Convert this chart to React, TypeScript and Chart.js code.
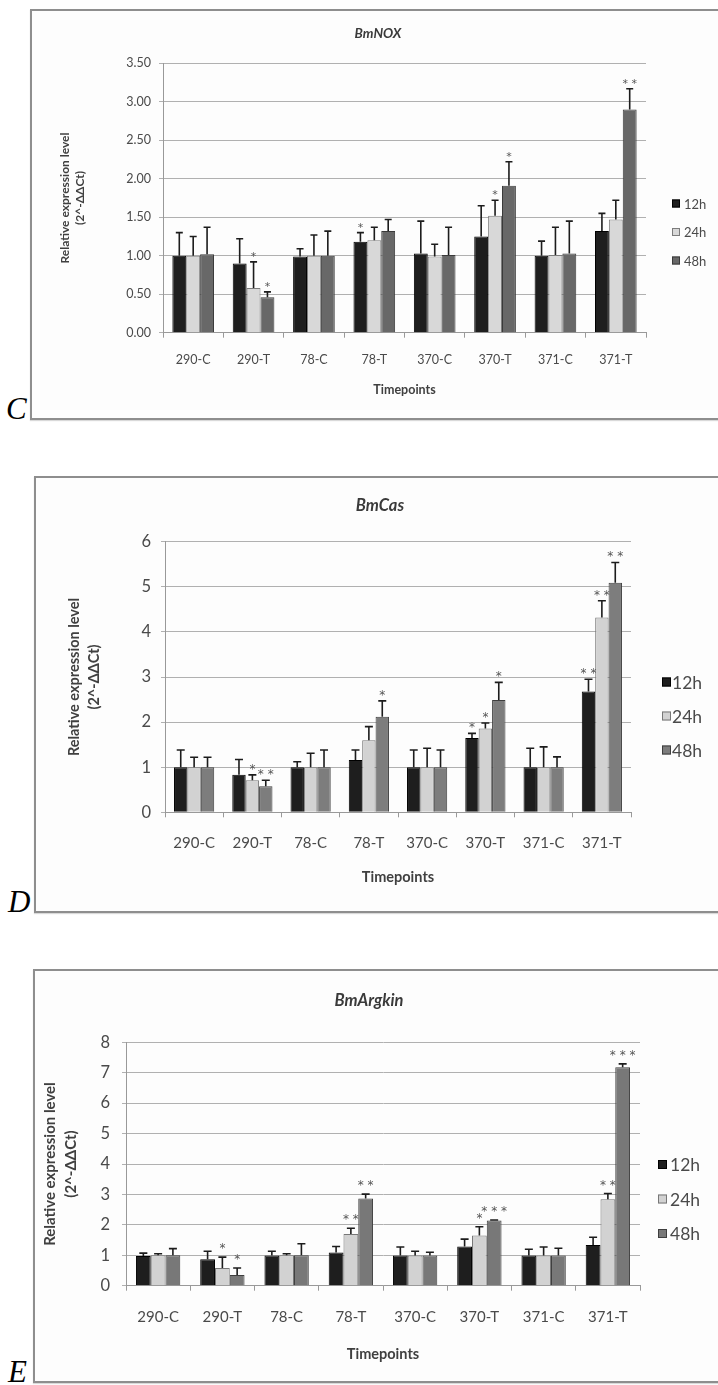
import React, { useEffect, useRef } from 'react';
import { Chart, registerables } from 'chart.js';

Chart.register(...registerables);

// ---------- shared data ----------
const categories = ['290-C', '290-T', '78-C', '78-T', '370-C', '370-T', '371-C', '371-T'];
const seriesNames = ['12h', '24h', '48h'];
const yAxisTitle = ['Relative expression level', '(2^-ΔΔCt)'];
const xAxisTitle = 'Timepoints';

// ---------- Panel C : BmNOX ----------
const noxTitle = 'BmNOX';
const noxMax = 3.5;
const noxStep = 0.5;
const nox12 = [1.0, 0.9, 0.99, 1.18, 1.03, 1.25, 1.0, 1.32];
const nox24 = [1.0, 0.58, 1.0, 1.2, 0.99, 1.52, 1.01, 1.47];
const nox48 = [1.02, 0.46, 1.0, 1.32, 1.01, 1.91, 1.03, 2.9];
const nox12Err = [0.3, 0.32, 0.1, 0.12, 0.42, 0.4, 0.19, 0.23];
const nox24Err = [0.25, 0.34, 0.27, 0.17, 0.16, 0.2, 0.36, 0.25];
const nox48Err = [0.35, 0.07, 0.32, 0.15, 0.36, 0.31, 0.42, 0.27];
const nox12Stars = ['', '', '', '*', '', '', '', ''];
const nox24Stars = ['', '*', '', '', '', '*', '', ''];
const nox48Stars = ['', '*', '', '', '', '*', '', '**'];

// ---------- Panel D : BmCas ----------
const casTitle = 'BmCas';
const casMax = 6;
const casStep = 1;
const cas12 = [1.0, 0.83, 1.0, 1.16, 1.0, 1.65, 1.0, 2.68];
const cas24 = [1.0, 0.71, 1.0, 1.6, 1.0, 1.86, 1.0, 4.32];
const cas48 = [1.0, 0.58, 1.0, 2.12, 1.0, 2.49, 1.0, 5.09];
const cas12Err = [0.38, 0.34, 0.12, 0.22, 0.38, 0.1, 0.42, 0.27];
const cas24Err = [0.22, 0.12, 0.31, 0.3, 0.42, 0.12, 0.45, 0.37];
const cas48Err = [0.22, 0.13, 0.38, 0.35, 0.38, 0.39, 0.23, 0.45];
const cas12Stars = ['', '', '', '', '', '*', '', '**'];
const cas24Stars = ['', '*', '', '', '', '*', '', '**'];
const cas48Stars = ['', '**', '', '*', '', '*', '', '**'];

// ---------- Panel E : BmArgkin ----------
const argTitle = 'BmArgkin';
const argMax = 8;
const argStep = 1;
const arg12 = [0.98, 0.87, 0.99, 1.09, 0.99, 1.29, 0.99, 1.34];
const arg24 = [1.0, 0.58, 1.0, 1.7, 0.99, 1.65, 0.99, 2.84];
const arg48 = [1.0, 0.35, 1.0, 2.87, 0.99, 2.14, 0.99, 7.18];
const arg12Err = [0.09, 0.26, 0.14, 0.2, 0.28, 0.24, 0.21, 0.25];
const arg24Err = [0.05, 0.36, 0.05, 0.19, 0.14, 0.29, 0.28, 0.19];
const arg48Err = [0.22, 0.23, 0.38, 0.14, 0.11, 0.02, 0.24, 0.11];
const arg12Stars = ['', '', '', '', '', '', '', ''];
const arg24Stars = ['', '*', '', '**', '', '*', '', '**'];
const arg48Stars = ['', '*', '', '**', '', '***', '', '***'];

const FONT = 'Lato, "Open Sans", "DejaVu Sans", sans-serif';
const STAR_FONT = '"DejaVu Sans", Lato, sans-serif';
const TEXT = '#4a4a4a';
const GRID = '#b0b0b0';
const AXIS = '#999999';

const decorPlugin = {
  id: 'decor',
  afterDatasetsDraw(chart: any, _args: any, o: any) {
    const ctx = chart.ctx;
    const yScale = chart.scales.y;
    chart.data.datasets.forEach((ds: any, i: number) => {
      const meta = chart.getDatasetMeta(i);
      meta.data.forEach((bar: any, j: number) => {
        const v = ds.data[j];
        const e = ds.errors[j];
        const yTop = yScale.getPixelForValue(v + e);
        ctx.save();
        ctx.strokeStyle = '#1c1c1c';
        ctx.lineWidth = o.errWidth;
        ctx.beginPath();
        ctx.moveTo(bar.x, bar.y);
        ctx.lineTo(bar.x, yTop);
        ctx.moveTo(bar.x - o.cap, yTop);
        ctx.lineTo(bar.x + o.cap, yTop);
        ctx.stroke();
        const s = ds.stars[j];
        if (s) {
          ctx.fillStyle = '#555';
          ctx.font = `${o.starSize}px ${STAR_FONT}`;
          ctx.textAlign = 'center';
          ctx.textBaseline = 'alphabetic';
          ctx.fillText(s.split('').join(' '), bar.x, yTop - o.starGap);
        }
        ctx.restore();
      });
    });
  },
  afterDraw(chart: any, _args: any, o: any) {
    const ctx = chart.ctx;
    const ca = chart.chartArea;
    const cx = (ca.left + ca.right) / 2;
    const cy = (ca.top + ca.bottom) / 2;
    ctx.save();
    ctx.fillStyle = '#3a3a3a';
    ctx.font = `italic bold ${o.titleSize}px ${FONT}`;
    ctx.textAlign = 'center';
    ctx.textBaseline = 'middle';
    ctx.fillText(o.title, cx + o.titleDx, ca.top + o.titleDy);
    const n = chart.data.datasets.length;
    chart.data.datasets.forEach((ds: any, i: number) => {
      const y = cy + o.legDy + (i - (n - 1) / 2) * o.legGap;
      const bx = ca.right + o.legBoxDx;
      const s = o.legBox;
      ctx.fillStyle = ds.backgroundColor;
      ctx.fillRect(bx, y - s / 2, s, s);
      ctx.strokeStyle = ds.borderColor;
      ctx.lineWidth = 1;
      ctx.strokeRect(bx + 0.5, y - s / 2 + 0.5, s - 1, s - 1);
      ctx.fillStyle = TEXT;
      ctx.font = `${o.legSize}px ${FONT}`;
      ctx.textAlign = 'left';
      ctx.textBaseline = 'middle';
      ctx.fillText(ds.label, ca.right + o.legTextDx, y + 1);
    });
    ctx.restore();
  },
};

type Spec = {
  title: string;
  max: number;
  step: number;
  decimals: number;
  values: number[][];
  errors: number[][];
  stars: string[][];
  colors: string[];
  borders: string[];
  box: { left: number; top: number; height: number };
  letter: string;
  letterLeft: number;
  padL: number; padR: number; padT: number; padB: number;
  yW: number; xH: number;
  tickSize: number; catSize: number; yTitleSize: number; yTitleLH: number;
  xTitleSize: number; yPad: number; xPad: number;
  titleSize: number; titleDx: number; titleDy: number;
  legSize: number; legBox: number; legBoxDx: number; legTextDx: number; legDy: number; legGap: number;
  starSize: number; starGap: number; cap: number;
};

function Panel({ spec }: { spec: Spec }) {
  const ref = useRef<HTMLCanvasElement | null>(null);
  const cw = 718 - (spec.box.left + 2);
  const chh = spec.box.height - 4;
  useEffect(() => {
    if (!ref.current) return;
    const chart = new Chart(ref.current, {
      type: 'bar',
      data: {
        labels: categories,
        datasets: seriesNames.map((name, i) => ({
          label: name,
          data: spec.values[i],
          errors: spec.errors[i],
          stars: spec.stars[i],
          backgroundColor: spec.colors[i],
          borderColor: spec.borders[i],
          borderWidth: 1,
          categoryPercentage: 0.69,
          barPercentage: 1.0,
        })) as any,
      },
      options: {
        responsive: false,
        animation: false,
        devicePixelRatio: 1,
        layout: { padding: { left: spec.padL, right: spec.padR, top: spec.padT, bottom: spec.padB } },
        plugins: {
          legend: { display: false },
          title: { display: false },
          tooltip: { enabled: false },
          decor: {
            title: spec.title,
            titleSize: spec.titleSize,
            titleDx: spec.titleDx,
            titleDy: spec.titleDy,
            legSize: spec.legSize,
            legBox: spec.legBox,
            legBoxDx: spec.legBoxDx,
            legTextDx: spec.legTextDx,
            legDy: spec.legDy,
            legGap: spec.legGap,
            starSize: spec.starSize,
            starGap: spec.starGap,
            cap: spec.cap,
            errWidth: 1.6,
          },
        } as any,
        scales: {
          x: {
            grid: { display: true, offset: true, drawOnChartArea: false, drawTicks: true, tickLength: 5, color: AXIS },
            border: { display: true, color: AXIS, width: 1 },
            ticks: { font: { family: FONT, size: spec.catSize }, color: TEXT, padding: spec.xPad, maxRotation: 0, autoSkip: false },
            title: { display: true, text: xAxisTitle, font: { family: FONT, size: spec.xTitleSize, weight: 'bold' }, color: '#404040', padding: 0 },
            afterFit: (s: any) => { s.height = spec.xH; },
          },
          y: {
            min: 0,
            max: spec.max,
            ticks: {
              stepSize: spec.step,
              font: { family: FONT, size: spec.tickSize },
              color: TEXT,
              padding: spec.yPad,
              callback: (v: any) => Number(v).toFixed(spec.decimals),
            },
            grid: { color: GRID, lineWidth: 1, tickLength: 4, drawTicks: true },
            border: { display: true, color: AXIS, width: 1 },
            title: {
              display: true,
              text: yAxisTitle,
              font: { family: FONT, size: spec.yTitleSize, weight: 'bold', lineHeight: spec.yTitleLH / spec.yTitleSize },
              color: '#404040',
              padding: 0,
            },
            afterFit: (s: any) => { s.width = spec.yW; },
          },
        },
      } as any,
      plugins: [decorPlugin as any],
    });
    return () => chart.destroy();
  }, [spec]);

  const b = spec.box;
  return (
    <>
      <div
        style={{
          position: 'absolute', left: b.left, top: b.top, width: 760, height: b.height,
          border: '2px solid #8e8e8e', boxSizing: 'border-box', background: '#fdfdfd',
          boxShadow: '0 1px 1px rgba(0,0,0,0.15)',
        }}
      />
      <canvas
        ref={ref}
        width={cw}
        height={chh}
        style={{ position: 'absolute', left: b.left + 2, top: b.top + 2, width: cw, height: chh }}
      />
      <div
        style={{
          position: 'absolute', left: spec.letterLeft, top: b.top + b.height - 26,
          font: 'italic 31px "Liberation Serif", "DejaVu Serif", serif', lineHeight: '30px', color: '#000',
        }}
      >
        {spec.letter}
      </div>
    </>
  );
}

const specC: Spec = {
  title: noxTitle, max: noxMax, step: noxStep, decimals: 2,
  values: [nox12, nox24, nox48], errors: [nox12Err, nox24Err, nox48Err], stars: [nox12Stars, nox24Stars, nox48Stars],
  colors: ['#1e1e1e', '#d8d8d8', '#686868'], borders: ['#000000', '#7c7c7c', '#3a3a3a'],
  box: { left: 30, top: 9, height: 411 }, letter: 'C', letterLeft: 6,
  padL: 25.5, padR: 72, padT: 52.3, padB: 20.8, yW: 105.5, xH: 64.5,
  tickSize: 12.5, catSize: 12.5, yTitleSize: 12, yTitleLH: 15, xTitleSize: 12.5, yPad: 8, xPad: 15,
  titleSize: 13.5, titleDx: -26.5, titleDy: -30,
  legSize: 13, legBox: 8, legBoxDx: 26, legTextDx: 38, legDy: 34, legGap: 28.5,
  starSize: 11, starGap: 2, cap: 3.5,
};

const specD: Spec = {
  title: casTitle, max: casMax, step: casStep, decimals: 0,
  values: [cas12, cas24, cas48], errors: [cas12Err, cas24Err, cas48Err], stars: [cas12Stars, cas24Stars, cas48Stars],
  colors: ['#1e1e1e', '#d2d2d2', '#7d7d7d'], borders: ['#000000', '#777777', '#3e3e3e'],
  box: { left: 34, top: 476, height: 437 }, letter: 'D', letterLeft: 8,
  padL: 28, padR: 87, padT: 63.7, padB: 24.6, yW: 101, xH: 74.1,
  tickSize: 16.5, catSize: 15, yTitleSize: 14.5, yTitleLH: 20, xTitleSize: 14.5, yPad: 10, xPad: 17,
  titleSize: 16.5, titleDx: -18, titleDy: -36,
  legSize: 17.5, legBox: 9, legBoxDx: 31, legTextDx: 41, legDy: 39, legGap: 34,
  starSize: 12, starGap: 2, cap: 4,
};

const specE: Spec = {
  title: argTitle, max: argMax, step: argStep, decimals: 0,
  values: [arg12, arg24, arg48], errors: [arg12Err, arg24Err, arg48Err], stars: [arg12Stars, arg24Stars, arg48Stars],
  colors: ['#1e1e1e', '#d2d2d2', '#787878'], borders: ['#000000', '#777777', '#3e3e3e'],
  box: { left: 33, top: 969, height: 414 }, letter: 'E', letterLeft: 8,
  padL: 4.5, padR: 78, padT: 71.3, padB: 17.6, yW: 86.5, xH: 77.7,
  tickSize: 16.5, catSize: 15, yTitleSize: 15, yTitleLH: 21, xTitleSize: 14.5, yPad: 12, xPad: 17,
  titleSize: 16.5, titleDx: -14, titleDy: -42,
  legSize: 17.5, legBox: 9, legBoxDx: 18, legTextDx: 30, legDy: 35, legGap: 34.5,
  starSize: 12, starGap: 5, cap: 4,
};

export default function App() {
  return (
    <div style={{ position: 'absolute', left: 0, top: 0, width: 718, height: 1385, overflow: 'hidden', background: '#ffffff' }}>
      <Panel spec={specC} />
      <Panel spec={specD} />
      <Panel spec={specE} />
    </div>
  );
}
